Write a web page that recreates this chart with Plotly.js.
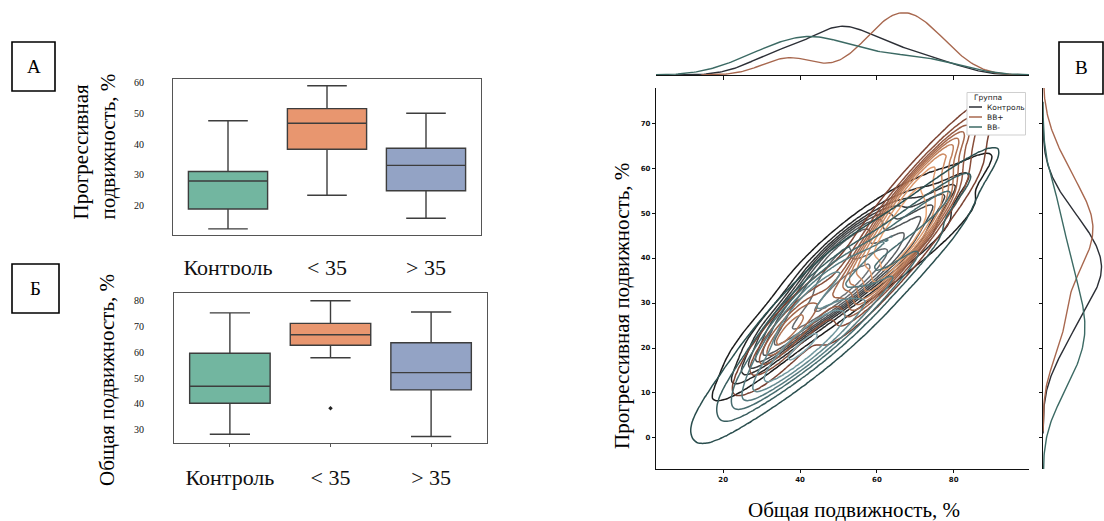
<!DOCTYPE html>
<html>
<head>
<meta charset="utf-8">
<script src="https://cdn.plot.ly/plotly-3.0.1.min.js"></script>
<style>html,body{margin:0;padding:0;background:#fff;}#chart{width:1104px;height:521px;}</style>
</head>
<body>
<div id="chart"></div>
<script>
// ---------- Box plot data (panels А and Б) ----------
const categories = ['Контроль', '< 35', '> 35'];
const boxColors = ['#72b6a0', '#e8966f', '#93a3c5'];

// Panel А: progressive motility, %
const progLo  = [12.2, 23.2, 15.7];
const progQ1  = [18.7, 38.3, 24.7];
const progMed = [27.9, 46.8, 33.0];
const progQ3  = [31.0, 51.6, 38.6];
const progHi  = [47.6, 59.1, 50.1];

// Panel Б: total motility, %
const totLo  = [28.2, 57.9, 27.3];
const totQ1  = [40.2, 62.7, 45.4];
const totMed = [46.8, 66.8, 52.1];
const totQ3  = [59.6, 71.2, 63.7];
const totHi  = [75.3, 80.0, 75.6];
const totOutCat = ['< 35'];
const totOutVal = [38.3];

// ---------- Joint KDE data (panel В): estimated observations ----------
const groupNames = ['Контроль', 'ВВ+', 'ВВ-'];
const ctrlX = [28,32,34,35,36,38,42,45,46,47,48,49,50,50,51,52,53,54,55,56,58,60,62,64,66,68,70,73,76,80];
const ctrlY = [16,23,20,27,23,30,26,37,30,35,41,32,38,30,43,35,40,33,46,38,36,48,41,45,39,52,46,51,46,56];
const bbpX = [34,37,39,40,36,55,57,58,60,61,62,63,64,64,65,66,66,67,68,68,69,70,71,72,73,74,76,76,78,80];
const bbpY = [20,27,21,26,24,36,31,40,35,44,39,47,37,45,52,43,49,41,53,47,44,57,51,47,59,53,51,62,59,66];
const bbmX = [23,26,29,31,33,35,37,38,40,41,42,43,44,45,46,48,50,52,54,56,59,62,65,68,71,74,77,80];
const bbmY = [11,9,17,12,22,14,26,19,30,22,17,33,26,21,36,28,23,38,31,26,42,34,46,38,50,44,52,55];

const lineColors = ['#2c2f36', '#a8684f', '#3c6a64'];
const contourScales = [
  [[0,'#1c1c1c'],[1,'#6e7478']],
  [[0,'#7a4232'],[1,'#eaa575']],
  [[0,'#2a4e4e'],[1,'#9cc4d0']]
];

// ---------- helpers (seaborn-like KDE) ----------
function mean(a){return a.reduce((s,v)=>s+v,0)/a.length;}
function cov(a,b){const ma=mean(a),mb=mean(b);let s=0;for(let i=0;i<a.length;i++)s+=(a[i]-ma)*(b[i]-mb);return s/(a.length-1);}
function kde2d(xs, ys, gx, gy, w){
  const n=xs.length, f=Math.pow(n,-1/6);
  const a=cov(xs,xs)*f*f, c=cov(ys,ys)*f*f, b=cov(xs,ys)*f*f;
  const det=a*c-b*b, ia=c/det, ib=-b/det, ic=a/det;
  const norm=w/(2*Math.PI*Math.sqrt(det)*n);
  const z=[];
  for(let j=0;j<gy.length;j++){const row=[];for(let i=0;i<gx.length;i++){let s=0;
    for(let k=0;k<n;k++){const dx=gx[i]-xs[k],dy=gy[j]-ys[k];s+=Math.exp(-0.5*(dx*dx*ia+2*dx*dy*ib+dy*dy*ic));}
    row.push(s*norm);} z.push(row);}
  return z;
}
function kde1d(v, w){
  const n=v.length, sd=Math.sqrt(cov(v,v)), bw=sd*Math.pow(n,-0.2);
  const lo=Math.min(...v)-3*bw, hi=Math.max(...v)+3*bw, g=[], d=[];
  for(let i=0;i<200;i++){const x=lo+(hi-lo)*i/199;let s=0;for(const t of v)s+=Math.exp(-0.5*((x-t)/bw)**2);
    g.push(x); d.push(w*s/(n*bw*Math.sqrt(2*Math.PI)));}
  return {g,d};
}
function isoLevels(vals, props){
  const s=vals.slice().sort((p,q)=>q-p), tot=s.reduce((p,q)=>p+q,0), cum=[];let c=0;
  for(const v of s){c+=v;cum.push(c/tot);}
  return props.map(p=>{const t=1-p;let lo=0,hi=cum.length;while(lo<hi){const m=(lo+hi)>>1;if(cum[m]<t)lo=m+1;else hi=m;}return s[Math.min(lo,s.length-1)];});
}
function toIndex(d, lv){
  if(d<lv[0])return d/lv[0];
  for(let k=0;k<lv.length-1;k++){if(d<lv[k+1])return k+1+(d-lv[k])/Math.max(lv[k+1]-lv[k],1e-12);}
  return lv.length;
}

const groupsX=[ctrlX,bbpX,bbmX], groupsY=[ctrlY,bbpY,bbmY];
const N=ctrlX.length+bbpX.length+bbmX.length;
const gx=[],gy=[];
for(let x=0;x<=102;x+=0.75)gx.push(x);
for(let y=-10;y<=82;y+=0.75)gy.push(y);
const dens=groupsX.map((xs,g)=>kde2d(xs,groupsY[g],gx,gy,xs.length/N));
const allVals=[];dens.forEach(z=>z.forEach(r=>r.forEach(v=>allVals.push(v))));
const props=[];for(let i=0;i<10;i++)props.push(0.05+0.95*i/9);
const levels=isoLevels(allVals,props);

const traces=[];
// Panel А boxes
categories.forEach((c,i)=>traces.push({type:'box',x:[c],q1:[progQ1[i]],median:[progMed[i]],q3:[progQ3[i]],
  lowerfence:[progLo[i]],upperfence:[progHi[i]],fillcolor:boxColors[i],line:{color:'#3d3d3d',width:1.4},
  whiskerwidth:0.5,width:0.8,boxpoints:false,xaxis:'x',yaxis:'y',hoverinfo:'skip'}));
// Panel Б boxes
categories.forEach((c,i)=>traces.push({type:'box',x:[c],q1:[totQ1[i]],median:[totMed[i]],q3:[totQ3[i]],
  lowerfence:[totLo[i]],upperfence:[totHi[i]],fillcolor:boxColors[i],line:{color:'#3d3d3d',width:1.4},
  whiskerwidth:0.5,width:0.8,boxpoints:false,xaxis:'x2',yaxis:'y2',hoverinfo:'skip'}));
traces.push({type:'scatter',mode:'markers',x:totOutCat,y:totOutVal,marker:{color:'#222',size:3.5,symbol:'diamond'},
  xaxis:'x2',yaxis:'y2',hoverinfo:'skip'});
// Panel В contours
dens.forEach((z,g)=>{
  const zt=z.map(r=>r.map(v=>toIndex(v,levels)));
  traces.push({type:'contour',x:gx,y:gy,z:zt,xaxis:'x3',yaxis:'y3',autocontour:false,
    contours:{coloring:'lines',start:1,end:9,size:1},colorscale:contourScales[g],zauto:false,zmin:1,zmax:9,
    showscale:false,line:{width:1.5,smoothing:1},hoverinfo:'skip'});
});
// Marginals
let topMax=0;const rightPeaks=[];
groupsX.forEach((xs,g)=>{
  const w=xs.length/N;
  const mx=kde1d(xs,w), my=kde1d(groupsY[g],w);
  topMax=Math.max(topMax,...mx.d);
  rightPeaks.push(Math.max(...my.d));
  traces.push({type:'scatter',mode:'lines',x:mx.g,y:mx.d,line:{color:lineColors[g],width:1.4},xaxis:'x4',yaxis:'y4',hoverinfo:'skip'});
  traces.push({type:'scatter',mode:'lines',x:my.d,y:my.g,line:{color:lineColors[g],width:1.4},xaxis:'x5',yaxis:'y5',hoverinfo:'skip'});
});
const rightRef=Math.max(rightPeaks[0],rightPeaks[2],rightPeaks[1]*0.9);

// ---------- layout ----------
const W=1104,H=521;
const px=v=>v/W, py=v=>1-v/H;
const serif='Liberation Serif';
const boxAxis={showline:true,mirror:true,linecolor:'#555',linewidth:1,showgrid:false,zeroline:false,fixedrange:true};
const jointTick={family:'DejaVu Sans',size:7,color:'#111',weight:'bold'};

const annotations=[
  {text:'А',x:px(33.5),y:py(66.5)},
  {text:'Б',x:px(35.5),y:py(288.5)},
  {text:'В',x:px(1081),y:py(68)}
].map(a=>Object.assign(a,{xref:'paper',yref:'paper',showarrow:false,xanchor:'center',yanchor:'middle',font:{family:serif,size:19,color:'#000'}}));
annotations.push(
  {text:'Прогрессивная<br>подвижность, %',x:px(94),y:py(146.5),textangle:-90,align:'left'},
  {text:'Общая подвижность, %',x:px(107),y:py(380),textangle:-90},
  {text:'Прогрессивная подвижность, %',x:px(622),y:py(306),textangle:-90},
  {text:'Общая подвижность, %',x:px(854),y:py(510)}
);
for(let i=3;i<annotations.length;i++)Object.assign(annotations[i],{xref:'paper',yref:'paper',showarrow:false,xanchor:'center',yanchor:'middle',font:{family:serif,size:21,color:'#000'}});
// legend text
const legFont={family:'DejaVu Sans',size:7.5,color:'#222'};
annotations.push({text:'Группа',x:px(988),y:py(97.5),xref:'paper',yref:'paper',showarrow:false,xanchor:'center',yanchor:'middle',font:legFont});
groupNames.forEach((n,i)=>annotations.push({text:n,x:px(985),y:py(107+10*i),xref:'paper',yref:'paper',showarrow:false,xanchor:'left',yanchor:'middle',font:legFont}));

const shapes=[
  {type:'rect',xref:'paper',yref:'paper',x0:px(12),x1:px(55),y0:py(42),y1:py(91),line:{color:'#000',width:1.6}},
  {type:'rect',xref:'paper',yref:'paper',x0:px(12),x1:px(59),y0:py(264),y1:py(313),line:{color:'#000',width:1.6}},
  {type:'rect',xref:'paper',yref:'paper',x0:px(1059),x1:px(1103),y0:py(42),y1:py(94),line:{color:'#000',width:1.6},fillcolor:'#fff',layer:'above'},
  // white strip that crops the lower edge of panel А's category labels
  {type:'rect',xref:'paper',yref:'paper',x0:px(140),x1:px(520),y0:py(275),y1:py(291),line:{width:0},fillcolor:'#fff',layer:'above'},
  // legend frame
  {type:'rect',xref:'paper',yref:'paper',x0:px(967),x1:px(1025.5),y0:py(92.5),y1:py(135),line:{color:'#cfcfcf',width:1},fillcolor:'#fff',layer:'above'}
];
lineColors.forEach((c,i)=>shapes.push({type:'line',xref:'paper',yref:'paper',x0:px(969),x1:px(982),y0:py(107+10*i),y1:py(107+10*i),line:{color:c,width:1.5},layer:'above'}));

const layout={
  width:W,height:H,margin:{l:0,r:0,t:0,b:0},paper_bgcolor:'#fff',plot_bgcolor:'#fff',showlegend:false,
  xaxis:Object.assign({},boxAxis,{domain:[px(173),px(481)],anchor:'y',type:'category',ticks:'',
    tickfont:{family:serif,size:22,color:'#111'},ticklabelstandoff:13}),
  yaxis:Object.assign({},boxAxis,{domain:[py(235),py(79)],anchor:'x',range:[10.2,61.3],tickvals:[20,30,40,50,60],ticks:'',
    tickfont:{family:serif,size:10,color:'#111'},ticklabelstandoff:26}),
  xaxis2:Object.assign({},boxAxis,{domain:[px(174),px(487)],anchor:'y2',type:'category',ticks:'outside',ticklen:3,tickcolor:'#555',
    tickfont:{family:serif,size:22,color:'#111'},ticklabelstandoff:12}),
  yaxis2:Object.assign({},boxAxis,{domain:[py(443),py(293)],anchor:'x2',range:[24.8,83],tickvals:[30,40,50,60,70,80],ticks:'',
    tickfont:{family:serif,size:10,color:'#111'},ticklabelstandoff:27}),
  xaxis3:{domain:[px(656),px(1029)],anchor:'y3',range:[2.5,99.6],tickvals:[20,40,60,80],ticks:'outside',ticklen:3,tickcolor:'#111',
    showline:true,linecolor:'#111',linewidth:1.2,showgrid:false,zeroline:false,tickfont:jointTick,fixedrange:true},
  yaxis3:{domain:[py(469),py(88)],anchor:'x3',range:[-6.9,77.8],tickvals:[0,10,20,30,40,50,60,70],ticks:'outside',ticklen:3,tickcolor:'#111',
    showline:true,linecolor:'#111',linewidth:1.2,showgrid:false,zeroline:false,tickfont:jointTick,fixedrange:true},
  xaxis4:{domain:[px(656),px(1029)],anchor:'y4',range:[2.5,99.6],tickvals:[20,40,60,80],ticks:'outside',ticklen:4,tickcolor:'#111',
    showticklabels:false,showline:true,linecolor:'#111',linewidth:1.2,showgrid:false,zeroline:false,fixedrange:true},
  yaxis4:{domain:[py(75),py(9)],anchor:'x4',range:[0,topMax*66/62.3],visible:false,fixedrange:true},
  xaxis5:{domain:[px(1043),1],anchor:'y5',range:[0,rightRef*61/58.5],visible:false,fixedrange:true},
  yaxis5:{domain:[py(469),py(88)],anchor:'x5',range:[-6.9,77.8],tickvals:[0,10,20,30,40,50,60,70],ticks:'outside',ticklen:3,tickcolor:'#111',
    showticklabels:false,showline:true,linecolor:'#111',linewidth:1.2,showgrid:false,zeroline:false,fixedrange:true},
  annotations:annotations,shapes:shapes
};
Plotly.newPlot('chart',traces,layout,{displayModeBar:false,staticPlot:true});
</script>
</body>
</html>
